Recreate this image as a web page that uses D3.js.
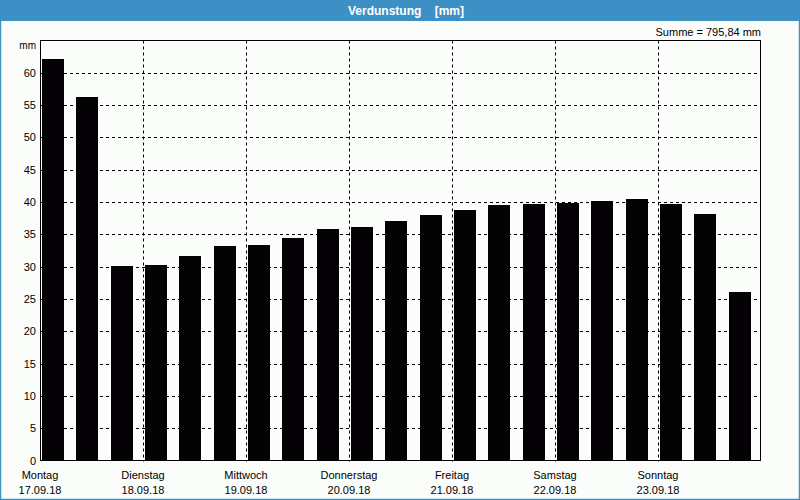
<!DOCTYPE html>
<html>
<head>
<meta charset="utf-8">
<script src="https://cdn.jsdelivr.net/npm/d3@7"></script>
<style>
html,body{margin:0;padding:0;background:#fbfdfb;}
svg{display:block;}
text{font-family:"Liberation Sans",Arial,sans-serif;}
</style>
</head>
<body>
<script>
const title = "Verdunstung    [mm]";
const unit = "mm";
const sumLabel = "Summe = 795,84 mm";
const days = ["Montag","Dienstag","Mittwoch","Donnerstag","Freitag","Samstag","Sonntag"];
const dates = ["17.09.18","18.09.18","19.09.18","20.09.18","21.09.18","22.09.18","23.09.18"];
const values = [62.2,56.3,30.1,30.3,31.7,33.2,33.4,34.4,35.9,36.2,37.1,38.0,38.7,39.6,39.7,39.9,40.2,40.5,39.7,38.2,26.1];
const yTicks = [0,5,10,15,20,25,30,35,40,45,50,55,60];
const barsPerDay = 3;

const W = 800, H = 500;
const L = 40, R = 761, T = 40.5, B = 460.5;

const svg = d3.select("body").append("svg").attr("width", W).attr("height", H);

svg.append("rect").attr("x",0).attr("y",0).attr("width",W).attr("height",H).attr("fill","#fbfdfb");
// title bar
svg.append("rect").attr("x",0).attr("y",0).attr("width",W).attr("height",21).attr("fill","#3d90c5");
svg.append("text").attr("x",406).attr("y",15).attr("text-anchor","middle")
  .attr("fill","#ffffff").attr("font-weight","bold").attr("font-size","12px")
  .style("white-space","pre").text(title);
// window border
svg.append("rect").attr("x",0.5).attr("y",0.5).attr("width",W-1).attr("height",H-1)
  .attr("fill","none").attr("stroke","#3d90c5").attr("stroke-width",1.5);

const idx = d3.range(values.length);
const x = d3.scaleBand().domain(idx).range([L, R]).paddingInner(0.368).paddingOuter(0.184).align(0.16);
const slot = d3.scaleLinear().domain([0, values.length]).range([L, R]);
const y = d3.scaleLinear().domain([0, 65]).range([B, T]);

// horizontal grid
svg.append("g").selectAll("line").data(yTicks.filter(d => d > 0)).join("line")
  .attr("x1", L).attr("x2", R)
  .attr("y1", d => Math.round(y(d)) + 0.5).attr("y2", d => Math.round(y(d)) + 0.5)
  .attr("stroke","#000").attr("stroke-width",1).attr("stroke-dasharray","3,3");
// vertical day lines
const dayIdx = d3.range(days.length);
svg.append("g").selectAll("line").data(dayIdx.filter(d => d > 0)).join("line")
  .attr("x1", d => Math.round(slot(d*barsPerDay)) + 0.5).attr("x2", d => Math.round(slot(d*barsPerDay)) + 0.5)
  .attr("y1", T).attr("y2", B + 1)
  .attr("stroke","#000").attr("stroke-width",1).attr("stroke-dasharray","3,3");

// bars
svg.append("g").selectAll("rect").data(values).join("rect")
  .attr("x", (d,i) => Math.round(x(i)))
  .attr("width", Math.round(x.bandwidth()))
  .attr("y", d => Math.round(y(d)))
  .attr("height", d => Math.round(B) - Math.round(y(d)))
  .attr("fill","#050205");

// frame
svg.append("rect").attr("x", L + 0.5).attr("y", T).attr("width", R - L - 1).attr("height", B - T)
  .attr("fill","none").attr("stroke","#000").attr("stroke-width",1);

// y labels
svg.append("g").selectAll("text").data(yTicks).join("text")
  .attr("x", 36).attr("y", d => y(d) + 4)
  .attr("text-anchor","end").attr("font-size","11px").attr("fill","#000").text(d => d);
svg.append("text").attr("x",36).attr("y",49).attr("text-anchor","end").attr("font-size","10px").attr("fill","#000").text(unit);
svg.append("text").attr("x",761).attr("y",36).attr("text-anchor","end").attr("font-size","11px").attr("fill","#000").text(sumLabel);

// x labels
svg.append("g").selectAll("text").data(dayIdx).join("text")
  .attr("x", d => slot(d*barsPerDay)).attr("y", 479)
  .attr("text-anchor","middle").attr("font-size","11px").attr("fill","#000").text(d => days[d]);
svg.append("g").selectAll("text").data(dayIdx).join("text")
  .attr("x", d => slot(d*barsPerDay)).attr("y", 494)
  .attr("text-anchor","middle").attr("font-size","11px").attr("fill","#000").text(d => dates[d]);
</script>
</body>
</html>
